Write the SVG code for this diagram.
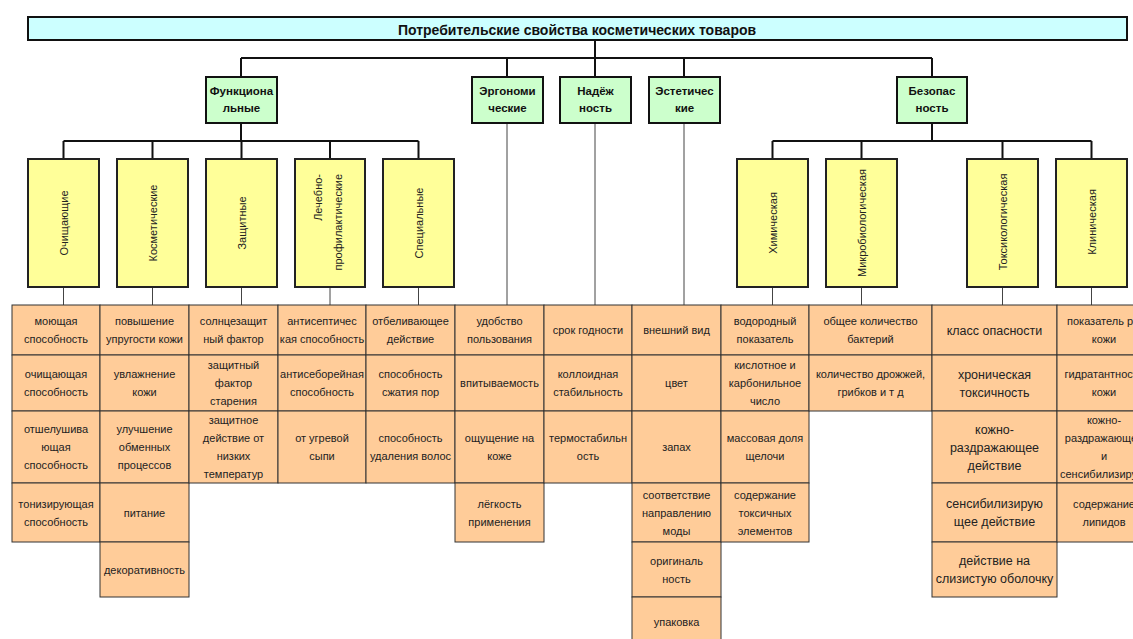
<svg xmlns="http://www.w3.org/2000/svg" width="1133" height="639" viewBox="0 0 1133 639">
<style>
.title{fill:#ccffff;stroke:#111;stroke-width:2}
.tt{font-family:"Liberation Sans",Arial,sans-serif;font-size:14px;font-weight:bold;fill:#111;text-anchor:middle}
.l2{fill:#ccffcc;stroke:#111;stroke-width:2}
.l2t{font-family:"Liberation Sans",Arial,sans-serif;font-size:11.5px;font-weight:bold;fill:#111;text-anchor:middle}
.l3{fill:#ffff99;stroke:#222;stroke-width:2}
.l3t{font-family:"Liberation Sans",Arial,sans-serif;font-size:11px;fill:#222;text-anchor:middle}
.cell{fill:#ffcc99;stroke:#333;stroke-width:1}
.ct{font-family:"Liberation Sans",Arial,sans-serif;font-size:11px;fill:#222;text-anchor:middle}
.cb{font-family:"Liberation Sans",Arial,sans-serif;font-size:12.5px;fill:#222;text-anchor:middle}
.thick{stroke:#111;stroke-width:2;fill:none}
.thin{stroke:#444;stroke-width:1;fill:none}
</style>
<rect width="1133" height="639" fill="#fff"/>
<g id="connectors">
<path class="thick" d="M595,40V58M241,58H932M241,58V77M507,58V77M595,58V77M684,58V77M932,58V77"/>
<path class="thick" d="M241,123V141M63.5,141H418.5M63.5,141V159M152.5,141V159M241.5,141V159M330,141V159M418.5,141V159"/>
<path class="thick" d="M932,123V141M772.5,141H1091.5M772.5,141V159M861.5,141V159M1002.5,141V159M1091.5,141V159"/>
<path class="thin" d="M63.5,287V305M152.5,287V305M241.5,287V305M330,287V305M418.5,287V305M772.5,287V305M861.5,287V305M1002.5,287V305M1091.5,287V305"/>
<path class="thin" d="M507,123V305M595,123V305M684,123V305"/>
</g>
<g id="root">
<rect class="title" x="28" y="17" width="1099" height="23"/>
<text class="tt" x="577" y="34.5">Потребительские свойства косметических товаров</text>
</g>
<g id="functional"><rect class="l2" x="206" y="77" width="71" height="46"/><text class="l2t" x="241.5" y="95">Функциона</text><text class="l2t" x="241.5" y="112">льные</text></g>
<g id="ergonomic"><rect class="l2" x="472" y="77" width="71" height="46"/><text class="l2t" x="507.5" y="95">Эргономи</text><text class="l2t" x="507.5" y="112">ческие</text></g>
<g id="reliability"><rect class="l2" x="560" y="77" width="71" height="46"/><text class="l2t" x="595.5" y="95">Надёж</text><text class="l2t" x="595.5" y="112">ность</text></g>
<g id="aesthetic"><rect class="l2" x="649" y="77" width="71" height="46"/><text class="l2t" x="684.5" y="95">Эстетичес</text><text class="l2t" x="684.5" y="112">кие</text></g>
<g id="safety"><rect class="l2" x="897" y="77" width="70" height="46"/><text class="l2t" x="932" y="95">Безопас</text><text class="l2t" x="932" y="112">ность</text></g>

<g id="cleaning"><rect class="l3" x="28" y="159" width="71" height="128"/><text class="l3t" transform="translate(63.5,223) rotate(-90)" y="4">Очищающие</text></g>
<g id="cosmetic"><rect class="l3" x="117" y="159" width="71" height="128"/><text class="l3t" transform="translate(152.5,223) rotate(-90)" y="4">Косметические</text></g>
<g id="protective"><rect class="l3" x="206" y="159" width="71" height="128"/><text class="l3t" transform="translate(241.5,223) rotate(-90)" y="4">Защитные</text></g>
<g id="therapeutic"><rect class="l3" x="295" y="159" width="70" height="128"/><text class="l3t" transform="translate(330,223) rotate(-90)" x="49" y="-8" style="text-anchor:end">Лечебно-</text><text class="l3t" transform="translate(330,223) rotate(-90)" x="49" y="12" style="text-anchor:end">профилактические</text></g>
<g id="special"><rect class="l3" x="383" y="159" width="71" height="128"/><text class="l3t" transform="translate(418.5,223) rotate(-90)" y="4">Специальные</text></g>
<g id="chemical"><rect class="l3" x="737" y="159" width="71" height="128"/><text class="l3t" transform="translate(772.5,223) rotate(-90)" y="4">Химическая</text></g>
<g id="microbiological"><rect class="l3" x="826" y="159" width="71" height="128"/><text class="l3t" transform="translate(861.5,223) rotate(-90)" y="4">Микробиологическая</text></g>
<g id="toxicological"><rect class="l3" x="967" y="159" width="71" height="128"/><text class="l3t" transform="translate(1002.5,222) rotate(-90)" y="4">Токсикологическая</text></g>
<g id="clinical"><rect class="l3" x="1056" y="159" width="71" height="128"/><text class="l3t" transform="translate(1091.5,222) rotate(-90)" y="4">Клиническая</text></g>

<g id="col-cleaning">
<rect class="cell" x="12" y="305" width="88" height="50"/><text class="ct" x="56" y="325">моющая</text><text class="ct" x="56" y="343">способность</text>
<rect class="cell" x="12" y="355" width="88" height="56"/><text class="ct" x="56" y="378">очищающая</text><text class="ct" x="56" y="396">способность</text>
<rect class="cell" x="12" y="411" width="88" height="72"/><text class="ct" x="56" y="433">отшелушива</text><text class="ct" x="56" y="451">ющая</text><text class="ct" x="56" y="469">способность</text>
<rect class="cell" x="12" y="483" width="88" height="59"/><text class="ct" x="56" y="507.5">тонизирующая</text><text class="ct" x="56" y="525.5">способность</text>
</g>
<g id="col-cosmetic">
<rect class="cell" x="100" y="305" width="89" height="50"/><text class="ct" x="144.5" y="325">повышение</text><text class="ct" x="144.5" y="343">упругости кожи</text>
<rect class="cell" x="100" y="355" width="89" height="56"/><text class="ct" x="144.5" y="378">увлажнение</text><text class="ct" x="144.5" y="396">кожи</text>
<rect class="cell" x="100" y="411" width="89" height="72"/><text class="ct" x="144.5" y="433">улучшение</text><text class="ct" x="144.5" y="451">обменных</text><text class="ct" x="144.5" y="469">процессов</text>
<rect class="cell" x="100" y="483" width="89" height="59"/><text class="ct" x="144.5" y="516.5">питание</text>
<rect class="cell" x="100" y="542" width="89" height="55"/><text class="ct" x="144.5" y="573.5">декоративность</text>
</g>
<g id="col-protective">
<rect class="cell" x="189" y="305" width="89" height="50"/><text class="ct" x="233.5" y="325">солнцезащит</text><text class="ct" x="233.5" y="343">ный фактор</text>
<rect class="cell" x="189" y="355" width="89" height="56"/><text class="ct" x="233.5" y="369">защитный</text><text class="ct" x="233.5" y="387">фактор</text><text class="ct" x="233.5" y="405">старения</text>
<rect class="cell" x="189" y="411" width="89" height="72"/><text class="ct" x="233.5" y="424">защитное</text><text class="ct" x="233.5" y="442">действие от</text><text class="ct" x="233.5" y="460">низких</text><text class="ct" x="233.5" y="478">температур</text>
</g>
<g id="col-therapeutic">
<rect class="cell" x="278" y="305" width="88" height="50"/><text class="ct" x="322" y="325">антисептичес</text><text class="ct" x="322" y="343">кая способность</text>
<rect class="cell" x="278" y="355" width="88" height="56"/><text class="ct" x="322" y="378">антисеборейная</text><text class="ct" x="322" y="396">способность</text>
<rect class="cell" x="278" y="411" width="88" height="72"/><text class="ct" x="322" y="442">от угревой</text><text class="ct" x="322" y="460">сыпи</text>
</g>
<g id="col-special">
<rect class="cell" x="366" y="305" width="89" height="50"/><text class="ct" x="410.5" y="325">отбеливающее</text><text class="ct" x="410.5" y="343">действие</text>
<rect class="cell" x="366" y="355" width="89" height="56"/><text class="ct" x="410.5" y="378">способность</text><text class="ct" x="410.5" y="396">сжатия пор</text>
<rect class="cell" x="366" y="411" width="89" height="72"/><text class="ct" x="410.5" y="442">способность</text><text class="ct" x="410.5" y="460">удаления волос</text>
</g>
<g id="col-ergonomic">
<rect class="cell" x="455" y="305" width="89" height="50"/><text class="ct" x="499.5" y="325">удобство</text><text class="ct" x="499.5" y="343">пользования</text>
<rect class="cell" x="455" y="355" width="89" height="56"/><text class="ct" x="499.5" y="387">впитываемость</text>
<rect class="cell" x="455" y="411" width="89" height="72"/><text class="ct" x="499.5" y="442">ощущение на</text><text class="ct" x="499.5" y="460">коже</text>
<rect class="cell" x="455" y="483" width="89" height="59"/><text class="ct" x="499.5" y="507.5">лёгкость</text><text class="ct" x="499.5" y="525.5">применения</text>
</g>
<g id="col-reliability">
<rect class="cell" x="544" y="305" width="88" height="50"/><text class="ct" x="588" y="334">срок годности</text>
<rect class="cell" x="544" y="355" width="88" height="56"/><text class="ct" x="588" y="378">коллоидная</text><text class="ct" x="588" y="396">стабильность</text>
<rect class="cell" x="544" y="411" width="88" height="72"/><text class="ct" x="588" y="442">термостабильн</text><text class="ct" x="588" y="460">ость</text>
</g>
<g id="col-aesthetic">
<rect class="cell" x="632" y="305" width="89" height="50"/><text class="ct" x="676.5" y="334">внешний вид</text>
<rect class="cell" x="632" y="355" width="89" height="56"/><text class="ct" x="676.5" y="387">цвет</text>
<rect class="cell" x="632" y="411" width="89" height="72"/><text class="ct" x="676.5" y="451">запах</text>
<rect class="cell" x="632" y="483" width="89" height="59"/><text class="ct" x="676.5" y="498.5">соответствие</text><text class="ct" x="676.5" y="516.5">направлению</text><text class="ct" x="676.5" y="534.5">моды</text>
<rect class="cell" x="632" y="542" width="89" height="55"/><text class="ct" x="676.5" y="564.5">оригиналь</text><text class="ct" x="676.5" y="582.5">ность</text>
<rect class="cell" x="632" y="597" width="89" height="55"/><text class="ct" x="676.5" y="626">упаковка</text>
</g>
<g id="col-chemical">
<rect class="cell" x="721" y="305" width="88" height="50"/><text class="ct" x="765" y="325">водородный</text><text class="ct" x="765" y="343">показатель</text>
<rect class="cell" x="721" y="355" width="88" height="56"/><text class="ct" x="765" y="369">кислотное и</text><text class="ct" x="765" y="387">карбонильное</text><text class="ct" x="765" y="405">число</text>
<rect class="cell" x="721" y="411" width="88" height="72"/><text class="ct" x="765" y="442">массовая доля</text><text class="ct" x="765" y="460">щелочи</text>
<rect class="cell" x="721" y="483" width="88" height="59"/><text class="ct" x="765" y="498.5">содержание</text><text class="ct" x="765" y="516.5">токсичных</text><text class="ct" x="765" y="534.5">элементов</text>
</g>
<g id="col-microbiological">
<rect class="cell" x="809" y="305" width="123" height="50"/><text class="ct" x="870.5" y="325">общее количество</text><text class="ct" x="870.5" y="343">бактерий</text>
<rect class="cell" x="809" y="355" width="123" height="56"/><text class="ct" x="870.5" y="378">количество дрожжей,</text><text class="ct" x="870.5" y="396">грибков и т д</text>
</g>
<g id="col-toxicological">
<rect class="cell" x="932" y="305" width="125" height="50"/><text class="cb" x="994.5" y="334.5">класс опасности</text>
<rect class="cell" x="932" y="355" width="125" height="56"/><text class="cb" x="994.5" y="378.5">хроническая</text><text class="cb" x="994.5" y="396.5">токсичность</text>
<rect class="cell" x="932" y="411" width="125" height="72"/><text class="cb" x="994.5" y="433.5">кожно-</text><text class="cb" x="994.5" y="451.5">раздражающее</text><text class="cb" x="994.5" y="469.5">действие</text>
<rect class="cell" x="932" y="483" width="125" height="59"/><text class="cb" x="994.5" y="508">сенсибилизирую</text><text class="cb" x="994.5" y="526">щее действие</text>
<rect class="cell" x="932" y="542" width="125" height="55"/><text class="cb" x="994.5" y="565">действие на</text><text class="cb" x="994.5" y="583">слизистую оболочку</text>
</g>
<g id="col-clinical">
<rect class="cell" x="1057" y="305" width="94" height="50"/><text class="ct" x="1104" y="325">показатель pH</text><text class="ct" x="1104" y="343">кожи</text>
<rect class="cell" x="1057" y="355" width="94" height="56"/><text class="ct" x="1104" y="378">гидратантность</text><text class="ct" x="1104" y="396">кожи</text>
<rect class="cell" x="1057" y="411" width="94" height="72"/><text class="ct" x="1104" y="424">кожно-</text><text class="ct" x="1104" y="442">раздражающее</text><text class="ct" x="1104" y="460">и</text><text class="ct" x="1060" y="478" style="text-anchor:start">сенсибилизирующее</text>
<rect class="cell" x="1057" y="483" width="94" height="59"/><text class="ct" x="1104" y="507.5">содержание</text><text class="ct" x="1104" y="525.5">липидов</text>
</g>
</svg>
